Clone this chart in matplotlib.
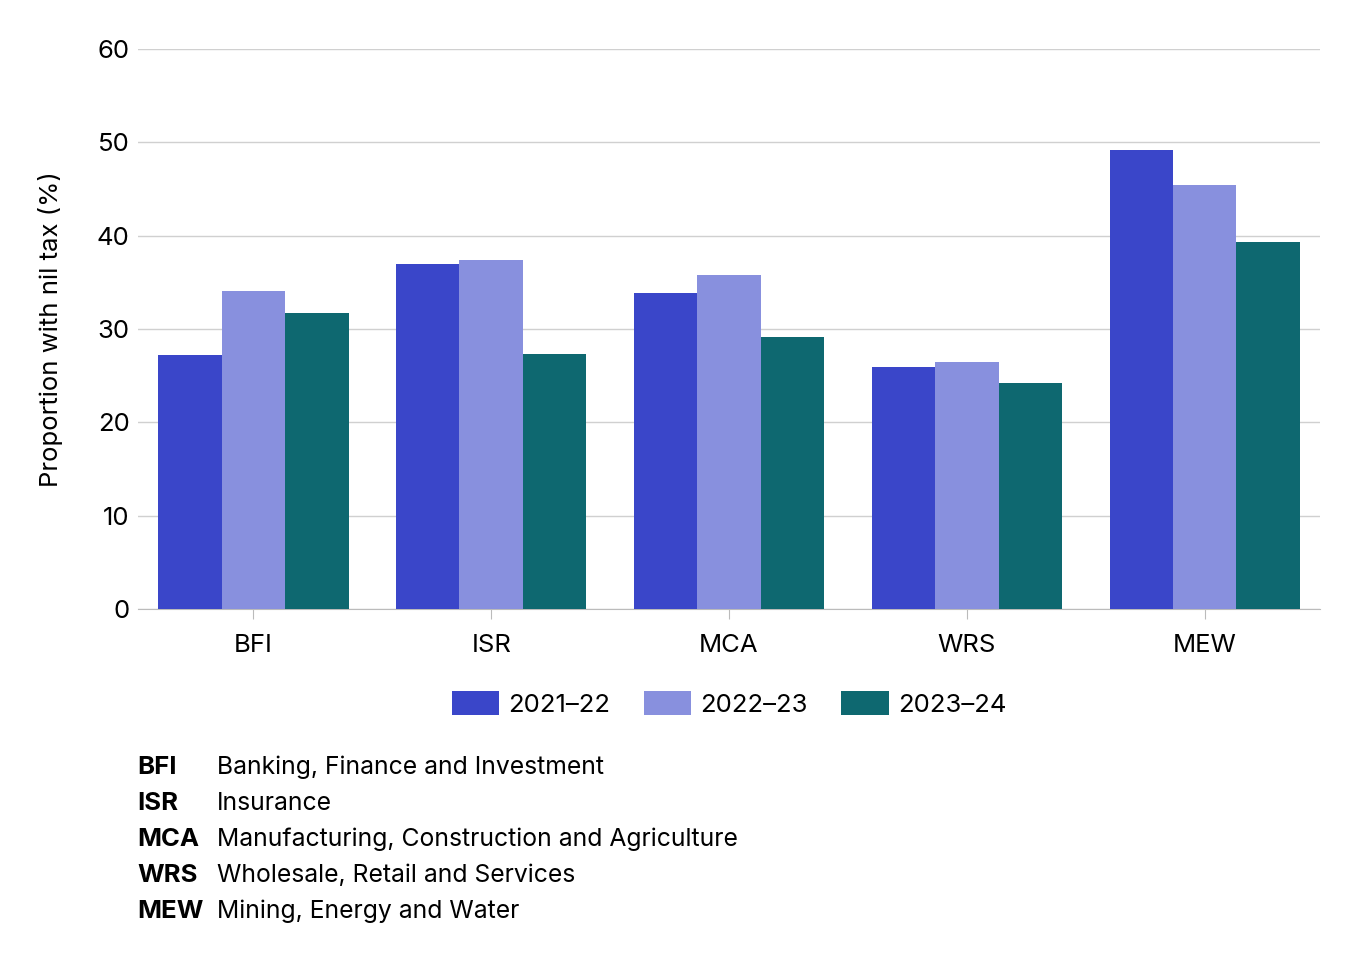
import matplotlib
matplotlib.use('Agg')
import matplotlib.pyplot as plt
import numpy as np

plt.rcParams['font.family'] = ['Inter', 'DejaVu Sans']

categories = ['BFI', 'ISR', 'MCA', 'WRS', 'MEW']
years = ['2021–22', '2022–23', '2023–24']
v_2021 = [27.2, 37.0, 33.9, 25.9, 49.2]
v_2022 = [34.1, 37.4, 35.8, 26.5, 45.4]
v_2023 = [31.7, 27.3, 29.1, 24.2, 39.3]
colors = ['#3A46C9', '#8890DE', '#0E6870']

abbrev = ['BFI', 'ISR', 'MCA', 'WRS', 'MEW']
full_names = ['Banking, Finance and Investment', 'Insurance',
              'Manufacturing, Construction and Agriculture',
              'Wholesale, Retail and Services', 'Mining, Energy and Water']

fs = 18.5

fig = plt.figure(figsize=(13.6, 9.58), dpi=100)
ax = fig.add_axes([0.1015, 0.3643, 0.8691, 0.5846])

x = np.arange(len(categories))
w = 0.8 / 3
for i, (vals, yr) in enumerate(zip([v_2021, v_2022, v_2023], years)):
    ax.bar(x + (i - 1) * w, vals, w, color=colors[i], label=yr, zorder=3)

ax.set_xlim(-0.485, 4.485)
ax.set_ylim(0, 60)
ax.set_yticks(range(0, 61, 10))
ax.grid(axis='y', color='#d0d0d0', linewidth=1, zorder=0)
for s in ['top', 'right', 'left']:
    ax.spines[s].set_visible(False)
ax.spines['bottom'].set_color('#bbbbbb')
ax.set_xticks(x)
ax.set_xticklabels(categories)
ax.tick_params(axis='x', length=7, color='#bbbbbb', labelsize=fs, pad=11)
ax.tick_params(axis='y', length=0, labelsize=fs, pad=6)
ax.set_ylabel('Proportion with nil tax (%)', fontsize=fs, labelpad=24)

ax.legend(loc='center', bbox_to_anchor=(0.5, -0.169), ncol=3, frameon=False,
          fontsize=fs, handlelength=1.85, handleheight=1.1, handletextpad=0.35,
          columnspacing=1.3)

for k, (a, n) in enumerate(zip(abbrev, full_names)):
    yy = 1 - (767 + 36 * k) / 958
    fig.text(137 / 1360, yy, a, fontsize=fs, fontweight='bold', va='center')
    fig.text(217 / 1360, yy, n, fontsize=17.8, va='center')

fig.savefig('out.png', dpi=100)
